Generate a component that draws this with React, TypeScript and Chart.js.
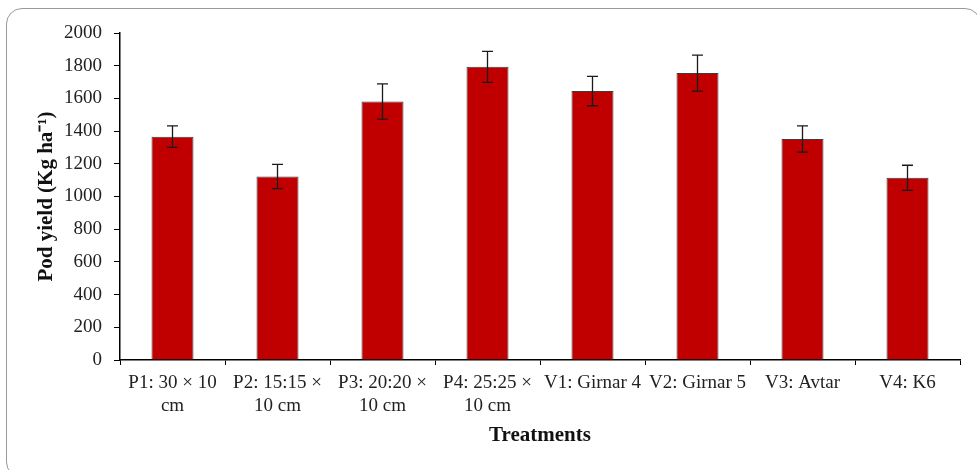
import React, { useEffect, useRef } from "react";
import { Chart, registerables } from "chart.js";

Chart.register(...registerables);

const categories: (string | string[])[] = [
  ["P1: 30 × 10", "cm"],
  ["P2: 15:15 ×", "10 cm"],
  ["P3: 20:20 ×", "10 cm"],
  ["P4: 25:25 ×", "10 cm"],
  "V1: Girnar 4",
  "V2: Girnar 5",
  "V3: Avtar",
  "V4: K6",
];
const podYield = [1366, 1122, 1581, 1793, 1645, 1755, 1352, 1114];
const errorValues = [66, 74, 108, 95, 90, 110, 80, 77];
const yTicks = [0, 200, 400, 600, 800, 1000, 1200, 1400, 1600, 1800, 2000];

const FONT = "'Liberation Serif', 'Times New Roman', serif";

const errorBarPlugin = {
  id: "errorBars",
  afterDatasetsDraw(chart: any) {
    const meta = chart.getDatasetMeta(0);
    const yScale = chart.scales.y;
    const ctx = chart.ctx;
    ctx.save();
    ctx.strokeStyle = "#1a1a1a";
    ctx.lineWidth = 1.3;
    meta.data.forEach((bar: any, i: number) => {
      const v = podYield[i];
      const e = errorValues[i];
      const x = bar.x;
      const yTop = yScale.getPixelForValue(v + e);
      const yBot = yScale.getPixelForValue(v - e);
      const cap = 5.5;
      ctx.beginPath();
      ctx.moveTo(x, yTop);
      ctx.lineTo(x, yBot);
      ctx.moveTo(x - cap, yTop);
      ctx.lineTo(x + cap, yTop);
      ctx.moveTo(x - cap, yBot);
      ctx.lineTo(x + cap, yBot);
      ctx.stroke();
    });
    ctx.restore();
  },
};

export default function App() {
  const canvasRef = useRef<HTMLCanvasElement | null>(null);

  useEffect(() => {
    if (!canvasRef.current) return;
    const chart = new Chart(canvasRef.current, {
      type: "bar",
      data: {
        labels: categories,
        datasets: [
          {
            data: podYield,
            backgroundColor: "#C00000",
            borderColor: "#3c3c3c",
            borderWidth: 1,
            barPercentage: 0.4,
            categoryPercentage: 1.0,
          },
        ],
      },
      options: {
        responsive: false,
        animation: false,
        devicePixelRatio: 1,
        layout: { padding: { top: 33, right: 17, left: 0, bottom: 0 } },
        plugins: {
          legend: { display: false },
          tooltip: { enabled: false },
        },
        scales: {
          x: {
            afterFit: (scale: any) => {
              scale.height = 110;
            },
            grid: {
              drawOnChartArea: false,
              drawTicks: true,
              tickLength: 5,
              color: "#000",
              offset: true,
            },
            border: { display: true, color: "#000", width: 1.5 },
            ticks: {
              color: "#222",
              padding: 7,
              maxRotation: 0,
              autoSkip: false,
              font: { family: FONT, size: 19, lineHeight: 1.2 },
            },
            title: {
              display: true,
              text: "Treatments",
              color: "#111",
              font: { family: FONT, size: 21, weight: "bold", lineHeight: 1.2 },
              padding: { top: 0, bottom: 22 },
            },
          },
          y: {
            min: 0,
            max: 2000,
            afterFit: (scale: any) => {
              scale.width = 120;
            },
            afterBuildTicks: (scale: any) => {
              scale.ticks = yTicks.map((v) => ({ value: v }));
            },
            grid: {
              drawOnChartArea: false,
              drawTicks: true,
              tickLength: 6,
              color: "#000",
            },
            border: { display: true, color: "#000", width: 1.5 },
            ticks: {
              color: "#222",
              padding: 12,
              font: { family: FONT, size: 19 },
              callback: (value: any) => String(value),
            },
            title: {
              display: true,
              text: "Pod yield (Kg ha⁻¹)",
              color: "#111",
              font: { family: FONT, size: 21, weight: "bold", lineHeight: 1.2 },
              padding: { top: 34, bottom: 0 },
            },
          },
        },
      },
      plugins: [errorBarPlugin],
    });
    return () => chart.destroy();
  }, []);

  return (
    <div
      style={{
        position: "fixed",
        left: 0,
        top: 0,
        width: 977,
        height: 470,
        overflow: "hidden",
        background: "#fff",
      }}
    >
      <div
        style={{
          position: "absolute",
          left: 6,
          top: 8,
          width: 975,
          height: 470,
          border: "1.5px solid #9a9a9a",
          borderRadius: 16,
          boxSizing: "border-box",
        }}
      />
      <canvas
        ref={canvasRef}
        width={977}
        height={470}
        style={{ position: "absolute", left: 0, top: 0, width: 977, height: 470 }}
      />
    </div>
  );
}
